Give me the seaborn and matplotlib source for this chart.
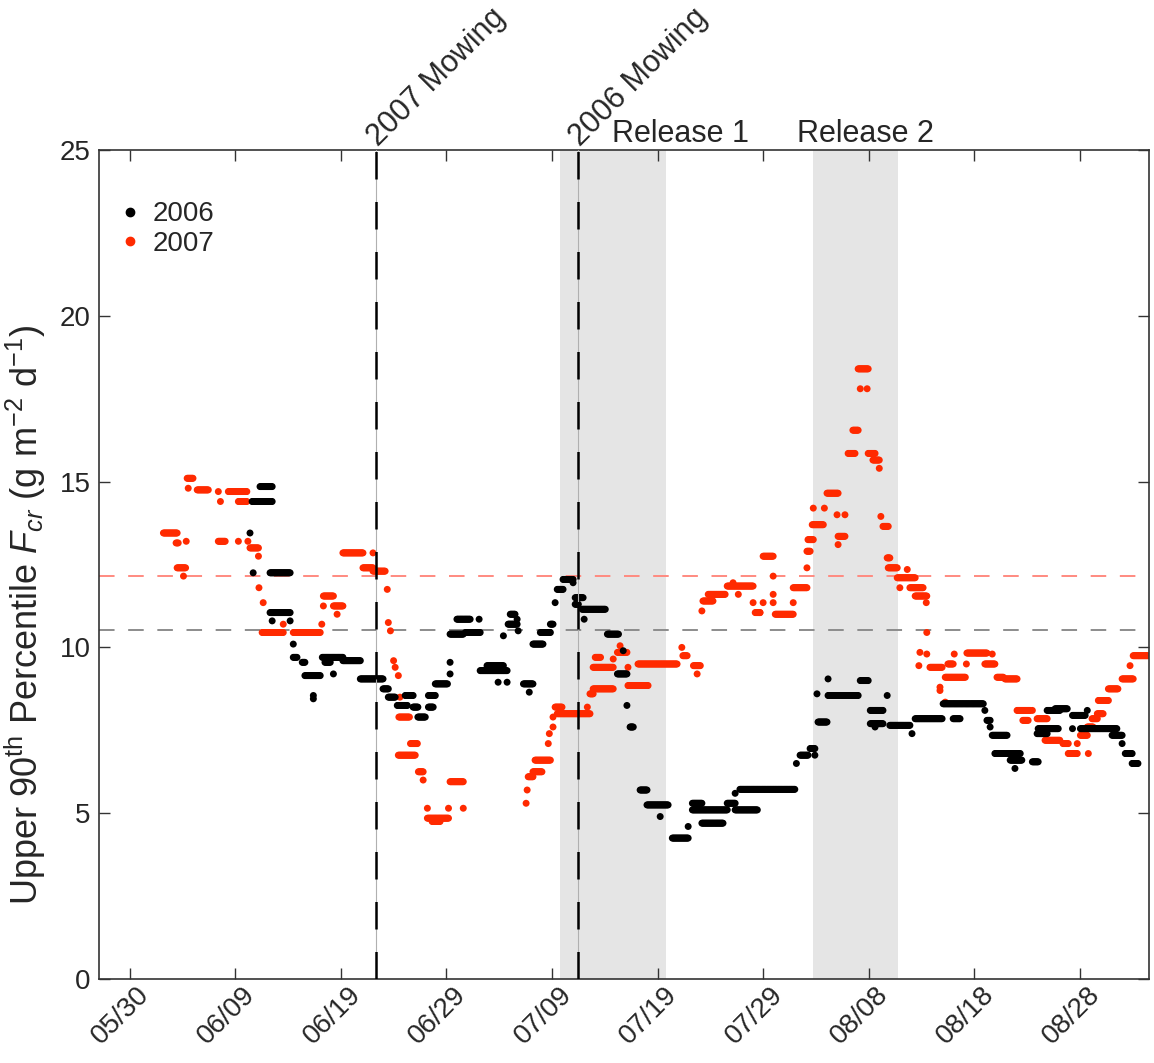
import numpy as np
import pandas as pd
import matplotlib
matplotlib.use("Agg")
import matplotlib.pyplot as plt
import matplotlib.transforms as mtransforms
from matplotlib.lines import Line2D
import seaborn as sns

# ---------------- data (days after 05/30, value) ----------------
# each entry: (run start day, run end day, value) -- plateau runs of the rolling percentile
runs_2006 = [
    (11.4, 11.4, 13.45), (11.6, 13.5, 14.4), (12.35, 13.5, 14.85), (11.7, 11.7, 12.25),
    (13.3, 15.2, 12.25), (13.3, 15.2, 11.05), (15.2, 15.2, 10.8), (13.5, 13.5, 10.8),
    (15.5, 15.5, 10.1), (15.5, 15.85, 9.7), (16.35, 16.6, 9.55), (16.6, 18.05, 9.15),
    (17.4, 17.4, 8.55), (17.4, 17.4, 8.45), (18.25, 20.2, 9.7), (18.5, 19.0, 9.55),
    (19.3, 19.3, 9.2), (20.2, 21.85, 9.6), (21.85, 24.0, 9.05), (24.0, 24.5, 8.75),
    (24.5, 25.15, 8.5), (25.35, 26.3, 8.25), (26.1, 26.85, 8.55), (26.85, 27.3, 8.2),
    (27.3, 28.0, 7.9), (28.3, 28.95, 8.55), (28.3, 28.75, 8.2), (28.95, 30.1, 8.9),
    (30.35, 30.35, 9.2), (30.35, 30.35, 9.55), (30.35, 31.6, 10.4), (31.0, 32.25, 10.85),
    (31.8, 33.2, 10.45), (33.1, 33.1, 10.85), (33.2, 35.75, 9.3), (33.85, 35.4, 9.45),
    (34.9, 34.9, 8.95), (35.75, 35.75, 8.95), (35.4, 35.4, 10.35), (35.85, 36.7, 10.7),
    (36.05, 36.5, 11.0), (36.7, 36.7, 10.85), (36.8, 36.8, 10.5), (37.3, 38.2, 8.9),
    (37.85, 37.85, 8.65), (38.2, 39.15, 10.1), (38.9, 39.85, 10.45), (39.85, 40.1, 10.7),
    (40.3, 40.3, 11.35), (40.5, 41.05, 11.75), (41.05, 42.0, 12.05), (42.0, 42.0, 11.95),
    (42.2, 42.95, 11.5), (42.2, 42.5, 11.3), (42.85, 45.05, 11.15), (43.05, 43.05, 10.85),
    (45.25, 46.3, 10.4), (46.75, 46.75, 9.9), (46.2, 47.1, 9.2), (47.1, 47.1, 8.25),
    (47.4, 47.7, 7.6), (48.35, 49.0, 5.7), (49.0, 51.0, 5.25), (50.25, 50.25, 4.9),
    (51.4, 52.9, 4.25), (52.9, 52.9, 4.6), (53.3, 54.2, 5.3), (53.3, 56.6, 5.1),
    (54.2, 56.2, 4.7), (56.6, 57.35, 5.3), (57.35, 57.35, 5.6), (57.8, 63.0, 5.72),
    (57.35, 59.45, 5.1), (63.15, 63.15, 6.5), (63.5, 64.25, 6.75), (64.45, 64.9, 6.95),
    (64.9, 64.9, 6.75), (65.2, 66.05, 7.75), (65.1, 65.1, 8.6), (66.15, 66.15, 9.05),
    (66.15, 69.0, 8.55), (69.2, 69.95, 9.0), (70.15, 71.35, 8.1), (70.15, 71.35, 7.7),
    (70.6, 70.6, 7.6), (71.75, 71.75, 8.55), (72.0, 73.9, 7.65), (74.1, 74.1, 7.4),
    (74.4, 76.95, 7.85), (77.05, 80.85, 8.3), (78.0, 78.65, 7.85), (81.0, 81.0, 8.1),
    (81.2, 81.5, 7.8), (81.5, 81.5, 7.6), (81.7, 83.1, 7.35), (81.95, 84.35, 6.8),
    (83.4, 84.5, 6.6), (83.85, 83.85, 6.35), (85.5, 86.05, 6.55), (85.95, 86.9, 7.4),
    (86.05, 87.95, 7.55), (86.9, 88.1, 8.1), (87.65, 88.8, 8.15), (89.3, 89.3, 7.55),
    (89.3, 90.5, 7.95), (90.7, 90.7, 8.1), (90.05, 93.5, 7.55), (93.05, 94.0, 7.35),
    (94.0, 94.0, 7.1), (94.3, 94.95, 6.8), (94.95, 95.5, 6.5),
]

runs_2007 = [
    (3.2, 4.5, 13.45), (4.4, 4.6, 13.15), (5.36, 5.36, 13.2), (4.5, 5.3, 12.4),
    (5.1, 5.1, 12.15), (5.45, 6.0, 15.1), (5.55, 5.55, 14.8), (6.4, 7.45, 14.75),
    (8.4, 8.4, 14.7), (9.35, 11.1, 14.7), (8.6, 8.6, 14.4), (10.3, 11.1, 14.4),
    (8.4, 9.05, 13.2), (10.3, 10.3, 13.2), (11.2, 11.2, 13.2), (11.4, 12.2, 13.0),
    (12.2, 12.2, 12.75), (12.25, 12.25, 11.8), (12.65, 12.65, 11.35), (12.55, 14.55, 10.45),
    (14.55, 14.55, 10.7), (15.5, 18.05, 10.45), (18.2, 18.2, 10.7), (18.35, 19.3, 11.55),
    (18.35, 18.35, 11.25), (19.3, 20.2, 11.25), (19.65, 19.65, 11.0), (20.2, 22.1, 12.85),
    (22.1, 23.05, 12.4), (23.05, 23.05, 12.85), (23.05, 24.2, 12.3), (24.4, 24.4, 11.75),
    (24.5, 24.5, 10.75), (24.7, 24.7, 10.5), (25.0, 25.0, 9.6), (25.15, 25.15, 9.4),
    (25.45, 25.45, 9.15), (25.6, 25.6, 8.5), (25.5, 26.5, 7.9), (25.45, 27.05, 6.75),
    (26.6, 27.25, 7.1), (27.35, 27.8, 6.25), (27.8, 27.8, 6.0), (28.2, 28.2, 5.15),
    (28.2, 30.2, 4.85), (28.65, 29.4, 4.75), (30.2, 30.2, 5.15), (31.6, 31.6, 5.15),
    (30.35, 31.6, 5.95), (37.55, 37.55, 5.3), (37.65, 37.65, 5.7), (37.75, 38.2, 6.1),
    (38.2, 39.05, 6.25), (38.4, 39.85, 6.6), (39.65, 39.65, 7.1), (39.75, 39.75, 7.4),
    (40.1, 40.1, 7.6), (40.1, 40.1, 7.9), (40.3, 40.95, 8.2), (40.5, 43.6, 8.0),
    (43.35, 43.35, 8.2), (43.6, 43.9, 8.6), (43.9, 45.8, 8.75), (44.1, 44.6, 9.7),
    (43.9, 45.8, 9.4), (45.8, 45.8, 9.65), (46.2, 47.1, 9.85), (46.45, 46.45, 10.05),
    (47.2, 47.2, 9.4), (47.2, 49.1, 8.85), (48.15, 51.85, 9.5), (52.3, 52.3, 10.0),
    (52.4, 52.8, 9.75), (53.4, 54.05, 9.45), (53.75, 53.75, 9.2), (54.2, 54.2, 11.1),
    (54.3, 55.25, 11.4), (54.8, 56.4, 11.6), (57.15, 57.15, 11.95), (56.6, 59.05, 11.85),
    (57.65, 57.65, 11.6), (59.05, 59.05, 11.35), (59.25, 59.7, 11.05), (60.0, 60.95, 12.75),
    (60.95, 60.95, 12.15), (60.95, 60.95, 11.6), (60.0, 60.0, 11.35), (60.95, 60.95, 11.35),
    (59.7, 59.7, 11.05), (61.15, 62.85, 11.0), (62.85, 62.85, 11.35), (62.85, 64.15, 11.8),
    (64.15, 64.15, 12.4), (64.15, 64.45, 12.9), (64.25, 64.75, 13.25), (64.65, 65.7, 13.7),
    (64.75, 64.75, 14.2), (65.8, 65.8, 14.2), (66.05, 67.1, 14.65), (67.0, 67.0, 14.0),
    (67.75, 67.75, 14.0), (67.1, 67.75, 13.35), (67.1, 67.1, 13.1), (68.05, 68.7, 15.85),
    (68.5, 69.0, 16.55), (69.0, 69.95, 18.4), (69.2, 69.2, 17.8), (69.85, 69.85, 17.8),
    (69.95, 70.6, 15.85), (70.4, 71.0, 15.65), (71.0, 71.0, 15.4), (71.15, 71.15, 13.95),
    (71.35, 71.85, 13.65), (71.75, 72.0, 12.7), (71.85, 72.7, 12.4), (72.7, 74.4, 12.1),
    (73.65, 73.65, 12.35), (72.95, 72.95, 11.8), (73.9, 75.15, 11.8), (74.4, 75.5, 11.55),
    (75.45, 75.45, 11.35), (75.5, 75.5, 10.45), (74.85, 74.85, 9.85), (75.5, 75.5, 9.8),
    (74.75, 74.75, 9.45), (75.8, 76.95, 9.4), (76.75, 76.75, 8.8), (76.75, 76.75, 8.7),
    (77.25, 77.25, 8.35), (77.5, 78.0, 9.5), (78.1, 78.1, 9.8), (77.25, 79.15, 9.1),
    (79.25, 79.25, 9.5), (79.3, 81.2, 9.83), (81.7, 81.7, 9.8), (81.0, 81.95, 9.5),
    (82.15, 82.75, 9.1), (82.9, 84.05, 9.05), (84.05, 85.3, 8.1), (84.6, 85.1, 7.8),
    (85.5, 85.5, 8.1), (85.95, 86.9, 7.85), (86.7, 88.1, 7.2), (88.4, 88.9, 7.1),
    (88.9, 89.75, 6.8), (89.75, 89.75, 7.1), (90.05, 90.7, 7.35), (90.8, 90.8, 6.8),
    (90.7, 91.25, 7.6), (91.15, 91.65, 7.85), (91.65, 92.2, 8.0), (91.75, 92.7, 8.4),
    (92.7, 93.6, 8.75), (94.0, 95.05, 9.05), (94.75, 94.75, 9.45), (95.05, 96.45, 9.75),
]

years = ["2006", "2007"]
colors = {"2006": "#000000", "2007": "#ff2a00"}
mean_2006 = 10.52
mean_2007 = 12.15
tick_labels = ["05/30", "06/09", "06/19", "06/29", "07/09", "07/19",
               "07/29", "08/08", "08/18", "08/28"]
mowing_days = {"2007 Mowing": 23.35, "2006 Mowing": 42.5}
release_spans = {"Release 1": (40.8, 50.8), "Release 2": (64.7, 72.8)}
release_text_day = {"Release 1": 45.7, "Release 2": 63.2}

base = pd.Timestamp("2007-05-30")


def day(d):
    return base + pd.to_timedelta(d, unit="D")


def expand(runs, year, step=0.08):
    rows = []
    for s, e, v in runs:
        n = max(1, int(round((e - s) / step)) + 1)
        for t in np.linspace(s, e, n):
            rows.append((day(t), v, year))
    return rows


rows = expand(runs_2007, "2007") + expand(runs_2006, "2006")
df = pd.DataFrame(rows, columns=["date", "value", "year"])

# ---------------- style ----------------
sns.set_style("ticks")
plt.rcParams["font.family"] = ["Liberation Sans", "DejaVu Sans"]
plt.rcParams["mathtext.fontset"] = "custom"
plt.rcParams["mathtext.rm"] = "Liberation Sans"
plt.rcParams["mathtext.it"] = "Liberation Sans:italic"
plt.rcParams["mathtext.bf"] = "Liberation Sans:bold"

fig = plt.figure(figsize=(11.54, 10.63), dpi=100)
ax = fig.add_axes([0.0858, 0.0790, 0.9099, 0.7799])

# shaded release periods
for name, (s, e) in release_spans.items():
    ax.axvspan(day(s), day(e), color="#e5e5e5", lw=0, zorder=0)

# mean lines
ax.axhline(mean_2007, color="#ff8a80", lw=1.4, dashes=(8, 7), zorder=1)
ax.axhline(mean_2006, color="#8c8c8c", lw=1.4, dashes=(8, 7), zorder=1)

sns.scatterplot(data=df, x="date", y="value", hue="year", hue_order=years,
                palette=colors, s=25, linewidth=0, legend=False, ax=ax, zorder=2)

# mowing lines
for name, d in mowing_days.items():
    ax.axvline(day(d), color="#b0b0b0", lw=0.8, zorder=3)
    ax.axvline(day(d), color="black", lw=1.8, dashes=(11, 9), zorder=4)

ax.set_xlim(day(-2.9), day(96.55))
ax.set_ylim(0, 25)
ax.set_yticks([0, 5, 10, 15, 20, 25])
ticks = [pd.Timestamp("2007-" + t.replace("/", "-")) for t in tick_labels]
ax.set_xticks(ticks)
ax.set_xticklabels(tick_labels, rotation=45, ha="right", va="center",
                   rotation_mode="anchor")
ax.tick_params(axis="both", direction="in", length=8, width=1, labelsize=20,
               top=True, right=True, color="#333333")
ax.tick_params(axis="x", pad=14)
ax.tick_params(axis="y", pad=6)
shift = mtransforms.ScaledTranslation(16 / 100, 8 / 100, fig.dpi_scale_trans)
for lab in ax.get_xticklabels():
    lab.set_transform(lab.get_transform() + shift)
for sp in ax.spines.values():
    sp.set_color("#333333")
    sp.set_linewidth(1.2)

ax.set_xlabel("")
ax.set_ylabel(r"Upper 90$^{\mathrm{th}}$ Percentile $F_{cr}$ (g m$^{-2}$ d$^{-1}$)",
              fontsize=26)
ax.yaxis.set_label_coords(-0.049, 0.44)

# annotations
for name, d in mowing_days.items():
    ax.text(day(d + 0.2), 25.1, name, rotation=45, rotation_mode="anchor",
            ha="left", va="baseline", fontsize=22, clip_on=False)
for name, d in release_text_day.items():
    ax.text(day(d), 25.25, name, ha="left", va="baseline", fontsize=22,
            clip_on=False)

handles = [Line2D([], [], marker="o", ls="", color=colors[y], markersize=6)
           for y in years]
ax.legend(handles, years, loc="upper left", bbox_to_anchor=(0.022, 0.938),
          frameon=False, fontsize=20, handlelength=0.6, handletextpad=0.5,
          labelspacing=0.12, borderaxespad=0, borderpad=0)

fig.savefig("out.png", dpi=100)
